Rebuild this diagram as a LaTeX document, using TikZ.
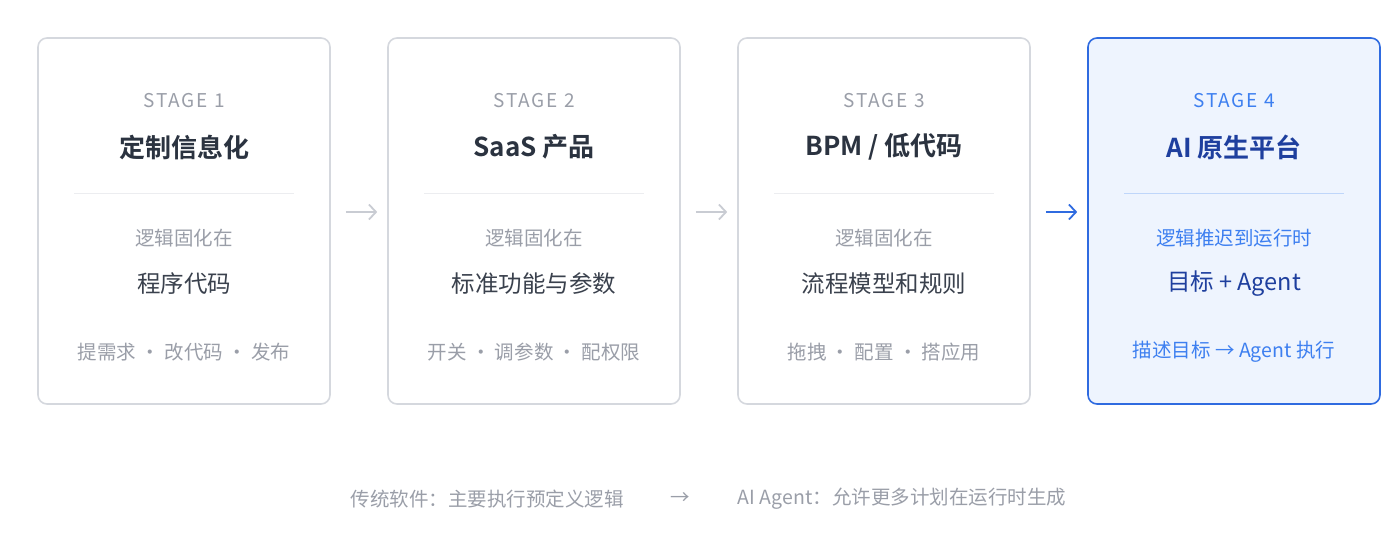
\documentclass[tikz,border=0pt]{standalone}
\usepackage{fontspec}
\setmainfont{Noto Sans CJK SC}[BoldFont={Noto Sans CJK SC Bold}]
\newfontfamily\stagefont{Noto Sans CJK SC}[LetterSpace=10]
\usetikzlibrary{arrows.meta,positioning}
\definecolor{txtgray}{HTML}{9A9EA8}
\definecolor{txtdark}{HTML}{2B3340}
\definecolor{txtmid}{HTML}{3A414D}
\definecolor{boxline}{HTML}{D5D8DE}
\definecolor{ruleline}{HTML}{ECEDF0}
\definecolor{arrgray}{HTML}{C9CCD3}
\definecolor{aiblue}{HTML}{2F6BE0}
\definecolor{aifill}{HTML}{EEF4FE}
\definecolor{aitext}{HTML}{3D7FF0}
\definecolor{aidark}{HTML}{1E3F9E}
\definecolor{airule}{HTML}{BFD6FA}
\tikzset{
  stage/.style={draw=boxline,line width=1.6pt,rounded corners=9pt,fill=white,minimum width=292pt,minimum height=366pt,inner sep=0pt},
  stage ai/.style={stage,draw=aiblue,fill=aifill},
  tag/.style={font=\stagefont\fontsize{19}{20}\selectfont,text=txtgray},
  title/.style={font=\bfseries\fontsize{26}{28}\selectfont,text=txtdark},
  small/.style={font=\fontsize{19.5}{21}\selectfont,text=txtgray},
  main/.style={font=\fontsize{23.5}{25}\selectfont,text=txtmid},
  flow/.style={-{Straight Barb[length=7pt,width=15pt]},line width=1.8pt,arrgray}
}
\newcommand\stagetexts[6]{%
  \node[tag] at ([yshift=-63pt]#1.north) {#2};
  \node[title] at ([yshift=-110pt]#1.north) {#3};
  \draw[ruleline,line width=1pt] ([xshift=-110pt,yshift=-156pt]#1.north) -- ([xshift=110pt,yshift=-156pt]#1.north);
  \node[small] at ([yshift=-201pt]#1.north) {#4};
  \node[main] at ([yshift=-246pt]#1.north) {#5};
  \node[small] at ([yshift=-315pt]#1.north) {#6};
}
\begin{document}
\begin{tikzpicture}[x=1pt,y=-1pt]
  \useasboundingbox (0,0) rectangle (1400,553);

  \node[stage] (s1) at (184,221) {};
  \node[stage] (s2) at (534,221) {};
  \node[stage] (s3) at (884,221) {};
  \node[stage ai] (s4) at (1234,221) {};

  \stagetexts{s1}{STAGE 1}{定制信息化}{逻辑固化在}{程序代码}{提需求 · 改代码 · 发布}
  \stagetexts{s2}{STAGE 2}{SaaS 产品}{逻辑固化在}{标准功能与参数}{开关 · 调参数 · 配权限}
  \stagetexts{s3}{STAGE 3}{BPM / 低代码}{逻辑固化在}{流程模型和规则}{拖拽 · 配置 · 搭应用}

  % AI stage
  \node[tag,text=aitext] at ([yshift=-63pt]s4.north) {STAGE 4};
  \node[title,text=aidark] at ([yshift=-110pt]s4.north) {AI 原生平台};
  \draw[airule,line width=1pt] ([xshift=-110pt,yshift=-156pt]s4.north) -- ([xshift=110pt,yshift=-156pt]s4.north);
  \node[small,text=aitext] at ([yshift=-201pt]s4.north) {逻辑推迟到运行时};
  \node[main,text=aidark] at ([yshift=-246pt]s4.north) {目标 + Agent};
  \node[small,text=aitext] at ([yshift=-315pt]s4.north) {描述目标 → Agent 执行};

  \foreach \a/\b in {s1/s2,s2/s3}
    \draw[flow] ([xshift=15pt,yshift=9pt]\a.east) -- ([xshift=-10pt,yshift=9pt]\b.west);
  \draw[flow,aiblue] ([xshift=15pt,yshift=9pt]s3.east) -- ([xshift=-10pt,yshift=9pt]s4.west);

  % bottom note
  \node[small] (old) at (487,499) {传统软件：主要执行预定义逻辑};
  \node[small] (new) at (902,499) {AI Agent：允许更多计划在运行时生成};
  \node[small] (mid) at (680,499) {→};
\end{tikzpicture}
\end{document}
